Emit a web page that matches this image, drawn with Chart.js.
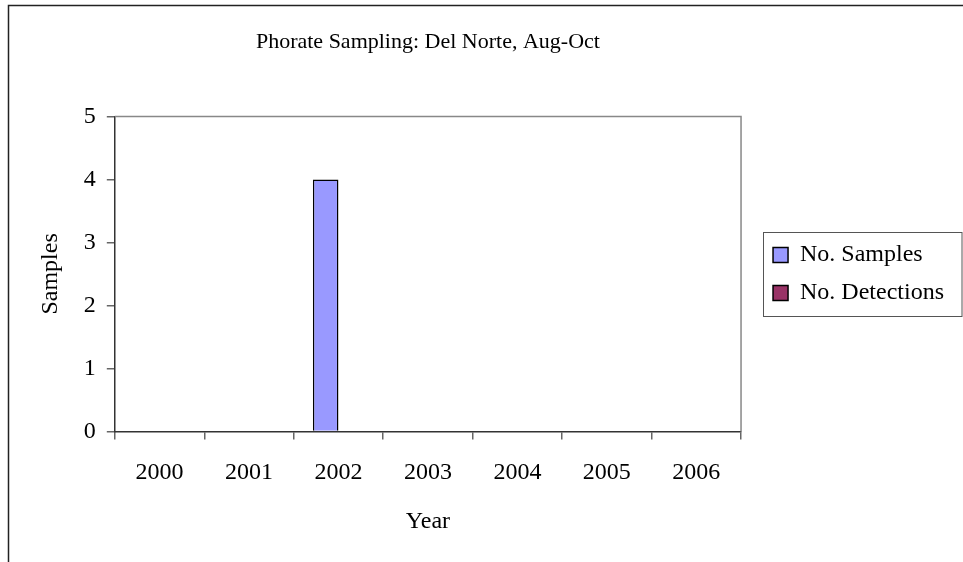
<!DOCTYPE html>
<html>
<head>
<meta charset="utf-8">
<script src="https://cdn.jsdelivr.net/npm/chart.js@4/dist/chart.umd.min.js"></script>
<style>
  html, body { margin: 0; padding: 0; background: #fff; }
  #wrap { width: 963px; height: 562px; }
</style>
</head>
<body>
<div id="wrap"><canvas id="phorateChart" width="963" height="562"></canvas></div>
<script>
// data
const years = ["2000", "2001", "2002", "2003", "2004", "2005", "2006"];
const samples = [0, 0, 4, 0, 0, 0, 0];
const detections = [0, 0, 0, 0, 0, 0, 0];
const yTicks = [0, 1, 2, 3, 4, 5];

const serif = "'Liberation Serif', 'Times New Roman', serif";

// outer chart border, plot frame, legend box
const framePlugin = {
  id: "frames",
  afterLayout(chart) {
    // legend sits a bit away from the plot, like the Excel original
    const L = chart.legend;
    L.left += 18;
    L.right += 18;
  },
  beforeDraw(chart) {
    const c = chart.ctx;
    c.save();
    c.strokeStyle = "#222";
    c.lineWidth = 1.5;
    c.strokeRect(8.5, 5.5, 2000, 2000);
    c.restore();
  },
  afterDraw(chart) {
    const c = chart.ctx;
    const a = chart.chartArea;
    c.save();
    c.strokeStyle = "#888";
    c.lineWidth = 1.5;
    c.beginPath();
    c.moveTo(a.left, a.top);
    c.lineTo(a.right, a.top);
    c.lineTo(a.right, a.bottom);
    c.stroke();

    const hb = chart.legend.legendHitBoxes;
    if (hb && hb.length) {
      const first = hb[0], last = hb[hb.length - 1];
      const x0 = Math.round(first.left) - 9.5;
      const y0 = Math.round(first.top + first.height / 2 - 23) + 0.5;
      const y1 = Math.round(last.top + last.height / 2 + 23) + 0.5;
      c.strokeStyle = "#555";
      c.lineWidth = 1;
      c.strokeRect(x0, y0, 962 - x0, y1 - y0);
    }
    c.restore();
  }
};

const data = {
  labels: years,
  datasets: [
    {
      label: "No. Samples",
      backgroundColor: "#9999FF",
      borderColor: "#000",
      borderWidth: 1.5,
      data: samples,
    },
    {
      label: "No. Detections",
      backgroundColor: "#993366",
      borderColor: "#000",
      borderWidth: 1.5,
      data: detections,
    },
  ],
};

const config = {
  type: "bar",
  data: data,
  plugins: [framePlugin],
  options: {
    responsive: false,
    animation: false,
    layout: { padding: { left: 12, right: 27, top: 5, bottom: 22 } },
    datasets: {
      bar: { categoryPercentage: 2 / 3.5, barPercentage: 1 },
    },
    plugins: {
      title: {
        display: true,
        text: "Phorate Sampling: Del Norte, Aug-Oct",
        color: "#000",
        fullSize: false,
        font: { family: serif, size: 22, weight: "normal" },
        padding: { top: 24, bottom: 61 },
      },
      legend: {
        position: "right",
        fullSize: false,
        labels: {
          color: "#000",
          font: { family: serif, size: 24 },
          boxWidth: 15,
          boxHeight: 15,
          padding: 14,
        },
      },
      tooltip: { enabled: false },
    },
    scales: {
      x: {
        grid: { drawOnChartArea: false, tickLength: 8, color: "#666", lineWidth: 1.5 },
        border: { color: "#333", width: 1.5 },
        ticks: { color: "#000", font: { family: serif, size: 24 }, padding: 19, maxRotation: 0 },
        title: {
          display: true,
          text: "Year",
          color: "#000",
          font: { family: serif, size: 24 },
          padding: { top: 1, bottom: 4 },
        },
      },
      y: {
        min: yTicks[0],
        max: yTicks[yTicks.length - 1],
        afterBuildTicks(s) { s.ticks = yTicks.map(v => ({ value: v })); },
        grid: { drawOnChartArea: false, tickLength: 8, color: "#666", lineWidth: 1.5 },
        border: { color: "#333", width: 1.5 },
        ticks: { color: "#000", font: { family: serif, size: 24 }, padding: 11 },
        title: {
          display: true,
          text: "Samples",
          color: "#000",
          font: { family: serif, size: 24 },
          padding: { top: 24, bottom: 8 },
        },
      },
    },
  },
};

const ctx = document.getElementById("phorateChart").getContext("2d");
const phorateChart = new Chart(ctx, config);
</script>
</body>
</html>
